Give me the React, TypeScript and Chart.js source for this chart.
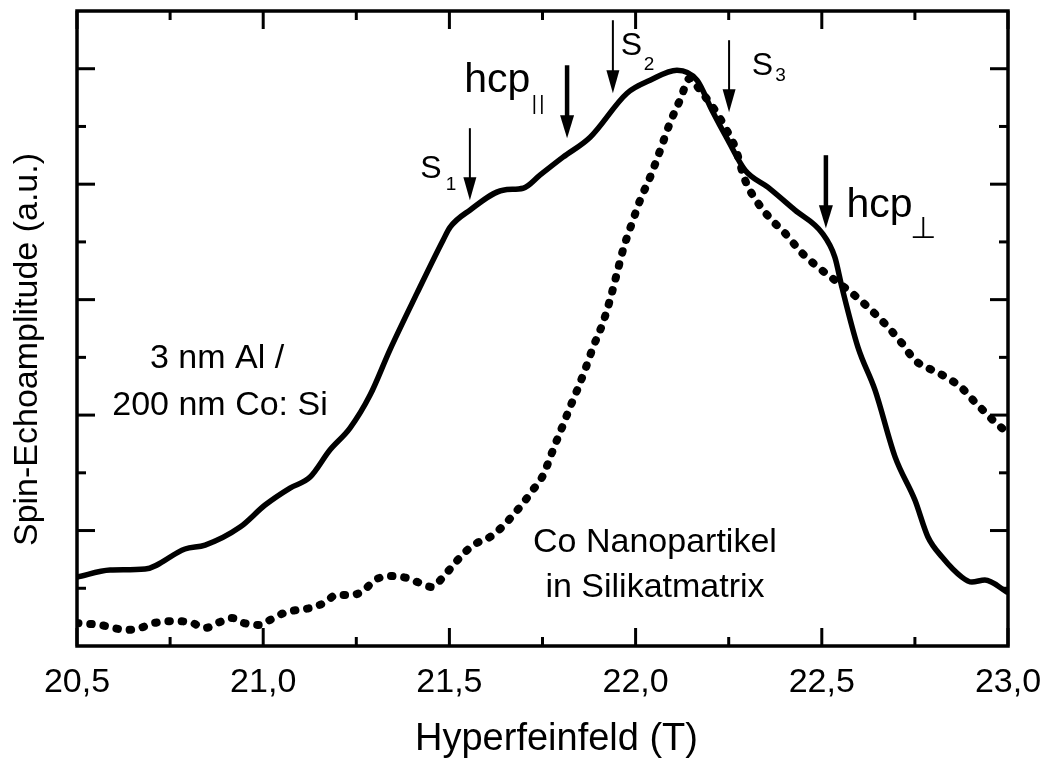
import React, { useEffect, useRef } from "react";
import { Chart, registerables } from "chart.js";

Chart.register(...registerables);

// ---- data ----
const solidX = [20.5, 20.589, 20.683, 20.79, 20.844, 20.938, 21.005, 21.072, 21.126, 21.179, 21.233, 21.287, 21.34, 21.413, 21.483, 21.502, 21.555, 21.644, 21.698, 21.743, 21.805, 21.878, 21.977, 22.039, 22.111, 22.165, 22.205, 22.248, 22.294, 22.355, 22.428, 22.501, 22.535, 22.554, 22.597, 22.643, 22.697, 22.75, 22.785, 22.823, 22.876, 22.903, 22.938, 22.997];
const solidY = [0.597, 0.658, 0.667, 0.84, 0.874, 1.03, 1.221, 1.368, 1.463, 1.697, 1.887, 2.173, 2.563, 3.056, 3.515, 3.628, 3.775, 3.948, 3.965, 4.078, 4.234, 4.407, 4.788, 4.9, 4.987, 4.9, 4.641, 4.381, 4.121, 3.974, 3.775, 3.576, 3.368, 3.108, 2.589, 2.216, 1.636, 1.264, 0.944, 0.771, 0.597, 0.554, 0.571, 0.468];

const dotX = [20.5, 20.562, 20.634, 20.669, 20.707, 20.769, 20.809, 20.844, 20.884, 20.916, 20.948, 20.989, 21.018, 21.056, 21.091, 21.126, 21.163, 21.198, 21.23, 21.265, 21.3, 21.34, 21.386, 21.421, 21.453, 21.483, 21.515, 21.542, 21.574, 21.609, 21.644, 21.671, 21.698, 21.724, 21.749, 21.765, 21.778, 21.792, 21.805, 21.824, 21.843, 21.864, 21.886, 21.912, 21.931, 21.95, 21.966, 21.993, 22.012, 22.039, 22.066, 22.092, 22.119, 22.146, 22.173, 22.213, 22.24, 22.267, 22.294, 22.329, 22.366, 22.401, 22.447, 22.49, 22.535, 22.581, 22.624, 22.678, 22.715, 22.75, 22.796, 22.839, 22.876, 22.911, 22.938, 22.965, 22.997];
const dotY = [0.199, 0.182, 0.139, 0.156, 0.199, 0.216, 0.199, 0.156, 0.208, 0.242, 0.199, 0.182, 0.225, 0.286, 0.312, 0.329, 0.372, 0.442, 0.442, 0.468, 0.571, 0.606, 0.589, 0.545, 0.511, 0.597, 0.719, 0.814, 0.892, 0.944, 1.039, 1.134, 1.238, 1.351, 1.463, 1.584, 1.697, 1.81, 1.913, 2.069, 2.216, 2.39, 2.589, 2.797, 2.996, 3.229, 3.429, 3.688, 3.861, 4.061, 4.294, 4.528, 4.727, 4.918, 4.814, 4.641, 4.494, 4.32, 4.035, 3.835, 3.688, 3.576, 3.403, 3.281, 3.169, 3.056, 2.935, 2.762, 2.623, 2.476, 2.39, 2.32, 2.234, 2.113, 2.026, 1.939, 1.853];

const xMajorTicks = [20.5, 21.0, 21.5, 22.0, 22.5, 23.0];
const xMinorTicks = [20.75, 21.25, 21.75, 22.25, 22.75];
const yMajorTicks = [1, 2, 3, 4, 5];
const yMinorTicks = [0.5, 1.5, 2.5, 3.5, 4.5];

const xTitle = "Hyperfeinfeld (T)";
const yTitle = "Spin-Echoamplitude (a.u.)";

// annotation anchors in data units
const arrowMarks = [
  { x: 21.555, from: 4.485, to: 3.861, thick: false },
  { x: 21.816, from: 5.03, to: 4.398, thick: true },
  { x: 21.939, from: 5.42, to: 4.788, thick: false },
  { x: 22.251, from: 5.247, to: 4.623, thick: false },
  { x: 22.511, from: 4.251, to: 3.619, thick: true },
];

const textMarks = [
  { t: "S", x: 21.422, y: 4.052, size: 32, align: "left" },
  { t: "1", x: 21.49, y: 3.95, size: 19, align: "left" },
  { t: "S", x: 21.96, y: 5.117, size: 32, align: "left" },
  { t: "2", x: 22.022, y: 4.99, size: 19, align: "left" },
  { t: "S", x: 22.312, y: 4.944, size: 32, align: "left" },
  { t: "3", x: 22.375, y: 4.89, size: 19, align: "left" },
  { t: "hcp", x: 21.54, y: 4.797, size: 41, align: "left" },
  { t: "hcp", x: 22.566, y: 3.714, size: 41, align: "left" },
  { t: "3 nm Al /", x: 20.876, y: 2.407, size: 34, align: "center" },
  { t: "200 nm Co: Si", x: 20.884, y: 2.0, size: 34, align: "center" },
  { t: "Co Nanopartikel", x: 22.052, y: 0.814, size: 34, align: "center" },
  { t: "in Silikatmatrix", x: 22.052, y: 0.424, size: 34, align: "center" },
];

const subParallel = { t: "|", x1: 21.721, x2: 21.741, y: 4.641, size: 20 };
const subPerp = { t: "\u22A5", x: 22.737, y: 3.532, size: 30 };

const FONT = '"Liberation Sans", Arial, Helvetica, sans-serif';

const framePlugin = {
  id: "frame",
  afterDraw(chart: any) {
    const { ctx, chartArea: a } = chart;
    const xs = chart.scales.x;
    const ys = chart.scales.y;
    ctx.save();
    ctx.strokeStyle = "#000";
    ctx.fillStyle = "#000";
    // frame
    ctx.lineWidth = 3.5;
    ctx.strokeRect(a.left, a.top, a.right - a.left, a.bottom - a.top);
    // ticks
    ctx.lineWidth = 3;
    const seg = (x1: number, y1: number, x2: number, y2: number) => {
      ctx.beginPath();
      ctx.moveTo(x1, y1);
      ctx.lineTo(x2, y2);
      ctx.stroke();
    };
    const xt = (v: number, len: number) => {
      const p = xs.getPixelForValue(v);
      seg(p, a.bottom, p, a.bottom - len);
      seg(p, a.top, p, a.top + len);
    };
    const yt = (v: number, len: number) => {
      const p = ys.getPixelForValue(v);
      seg(a.left, p, a.left + len, p);
      seg(a.right, p, a.right - len, p);
    };
    xMajorTicks.forEach((v) => xt(v, 18));
    xMinorTicks.forEach((v) => xt(v, 9));
    yMajorTicks.forEach((v) => yt(v, 18));
    yMinorTicks.forEach((v) => yt(v, 9));

    // arrows
    arrowMarks.forEach((m) => {
      const px = xs.getPixelForValue(m.x);
      const y0 = ys.getPixelForValue(m.from);
      const y1 = ys.getPixelForValue(m.to);
      const headL = 23;
      const headW = m.thick ? 7 : 6.5;
      ctx.lineWidth = m.thick ? 4.5 : 2;
      seg(px, y0, px, y1 - headL + 2);
      ctx.beginPath();
      ctx.moveTo(px, y1);
      ctx.lineTo(px - headW, y1 - headL);
      ctx.lineTo(px + headW, y1 - headL);
      ctx.closePath();
      ctx.fill();
    });

    // texts
    ctx.textBaseline = "alphabetic";
    textMarks.forEach((m) => {
      ctx.font = `${m.size}px ${FONT}`;
      ctx.textAlign = m.align as CanvasTextAlign;
      ctx.fillText(m.t, xs.getPixelForValue(m.x), ys.getPixelForValue(m.y));
    });
    ctx.textAlign = "left";
    ctx.font = `${subParallel.size}px ${FONT}`;
    ctx.fillText(subParallel.t, xs.getPixelForValue(subParallel.x1), ys.getPixelForValue(subParallel.y));
    ctx.fillText(subParallel.t, xs.getPixelForValue(subParallel.x2), ys.getPixelForValue(subParallel.y));
    ctx.font = `${subPerp.size}px "DejaVu Sans", sans-serif`;
    ctx.fillText(subPerp.t, xs.getPixelForValue(subPerp.x), ys.getPixelForValue(subPerp.y));

    // axis titles
    ctx.font = `38px ${FONT}`;
    ctx.textAlign = "center";
    ctx.fillText(xTitle, (a.left + a.right) / 2 + 14, a.bottom + 104);
    ctx.save();
    ctx.translate(a.left - 40, (a.top + a.bottom) / 2 + 21);
    ctx.rotate(-Math.PI / 2);
    ctx.font = `34px ${FONT}`;
    ctx.fillText(yTitle, 0, 0);
    ctx.restore();

    ctx.restore();
  },
};

export default function App() {
  const ref = useRef<HTMLCanvasElement | null>(null);
  useEffect(() => {
    if (!ref.current) return;
    const chart = new Chart(ref.current, {
      type: "line",
      data: {
        datasets: [
          {
            data: solidX.map((x, i) => ({ x, y: solidY[i] })),
            borderColor: "#000",
            borderWidth: 5.5,
            pointRadius: 0,
            cubicInterpolationMode: "monotone",
            borderCapStyle: "round",
            borderJoinStyle: "round",
            fill: false,
          },
          {
            data: dotX.map((x, i) => ({ x, y: dotY[i] })),
            borderColor: "#000",
            borderWidth: 8,
            pointRadius: 0,
            cubicInterpolationMode: "monotone",
            borderDash: [1.5, 11.8],
            borderCapStyle: "round",
            fill: false,
          },
        ],
      },
      options: {
        animation: false,
        responsive: false,
        devicePixelRatio: 1,
        layout: { autoPadding: false, padding: { left: 77, top: 11, right: 37, bottom: 0 } },
        plugins: { legend: { display: false }, tooltip: { enabled: false }, title: { display: false } },
        scales: {
          x: {
            type: "linear",
            min: 20.5,
            max: 23,
            grid: { display: false, drawTicks: false },
            border: { display: false },
            afterFit: (s: any) => {
              s.height = 115;
              s.paddingLeft = 0;
              s.paddingRight = 0;
            },
            ticks: {
              stepSize: 0.5,
              padding: 16,
              color: "#000",
              font: { size: 34, family: FONT },
              maxRotation: 0,
              callback: (v: any) => Number(v).toFixed(1).replace(".", ","),
            },
          },
          y: {
            type: "linear",
            display: false,
            min: 0,
            max: 5.5,
          },
        },
      },
      plugins: [framePlugin],
    } as any);
    return () => chart.destroy();
  }, []);
  return (
    <div style={{ position: "fixed", left: 0, top: 0, width: 1045, height: 761, background: "#fff" }}>
      <canvas ref={ref} width={1045} height={761} />
    </div>
  );
}
